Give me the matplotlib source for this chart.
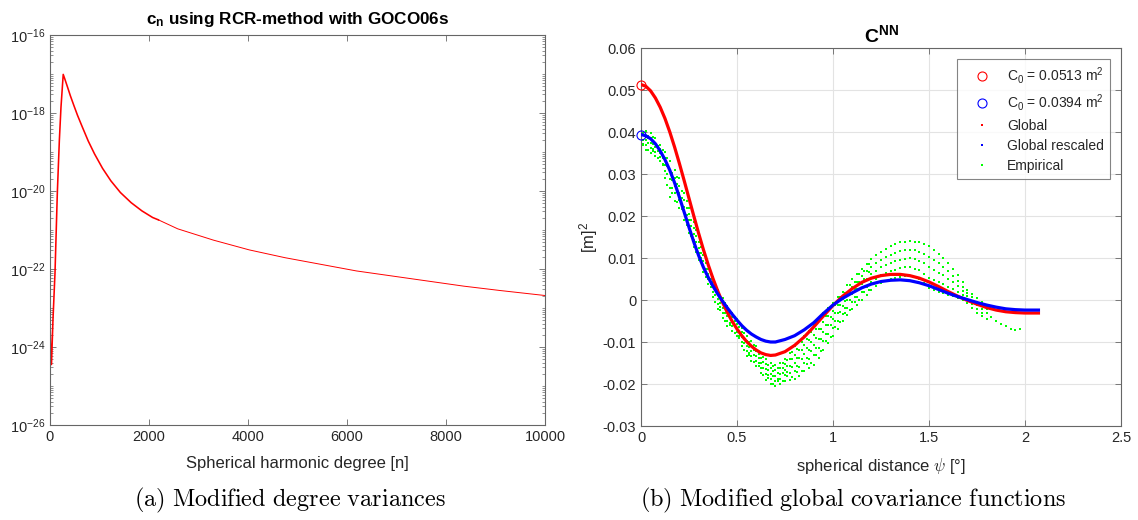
import numpy as np
import matplotlib
matplotlib.use("Agg")
import matplotlib.pyplot as plt
from matplotlib.lines import Line2D
from matplotlib.ticker import LogLocator, FixedLocator, NullFormatter

plt.rcParams['font.family'] = ['Liberation Sans', 'DejaVu Sans']
plt.rcParams['mathtext.fontset'] = 'custom'
plt.rcParams['mathtext.rm'] = 'Liberation Sans'
plt.rcParams['mathtext.it'] = 'Liberation Sans:italic'
plt.rcParams['mathtext.bf'] = 'Liberation Sans:bold'
plt.rcParams['axes.unicode_minus'] = False

# ---------------- data: left panel (degree variances) ----------------
n_deg = [2, 10, 30, 60, 101, 148, 189, 222, 267, 300, 350, 412, 480, 556, 650,
         773, 900, 1062, 1230, 1423, 1640, 1857, 2074, 2190, 2580, 3302, 4025,
         4747, 5470, 6192, 6915, 7637, 8360, 9082, 10000]
log_cn = [-23.4, -23.9, -24.45, -23.3, -22.1, -20.05, -18.7, -17.85, -17.01,
          -17.13, -17.32, -17.56, -17.80, -18.06, -18.35, -18.72, -19.05,
          -19.42, -19.74, -20.04, -20.30, -20.51, -20.68, -20.74, -20.97,
          -21.26, -21.51, -21.71, -21.88, -22.05, -22.18, -22.31, -22.44,
          -22.55, -22.68]
n_split = 2190

# ---------------- data: right panel (covariance functions) ----------------
psi_glob = [0.0, 0.025, 0.05, 0.075, 0.1, 0.125, 0.15, 0.175, 0.2, 0.225, 0.25,
            0.275, 0.3, 0.325, 0.35, 0.375, 0.4, 0.425, 0.45, 0.475, 0.5, 0.525,
            0.55, 0.575, 0.6, 0.625, 0.65, 0.675, 0.7, 0.75, 0.8, 0.85, 0.9,
            0.95, 1.0, 1.05, 1.1, 1.15, 1.2, 1.25, 1.3, 1.35, 1.4, 1.45, 1.5,
            1.55, 1.6, 1.65, 1.7, 1.75, 1.8, 1.85, 1.9, 1.95, 2.0, 2.07]
cov_global = [0.0513, 0.0509, 0.0498, 0.0481, 0.0459, 0.0432, 0.0400, 0.0364,
              0.0325, 0.0284, 0.0242, 0.0200, 0.0159, 0.0120, 0.0084, 0.0051,
              0.0021, -0.0006, -0.0030, -0.0051, -0.0069, -0.0085, -0.0099,
              -0.0110, -0.0119, -0.0126, -0.0130, -0.0132, -0.0131, -0.0123,
              -0.0108, -0.0088, -0.0064, -0.0038, -0.0013, 0.0009, 0.0027,
              0.0042, 0.0052, 0.0058, 0.0061, 0.0061, 0.0058, 0.0052, 0.0043,
              0.0032, 0.0020, 0.0009, -0.0001, -0.0010, -0.0018, -0.0024,
              -0.0028, -0.0030, -0.0031, -0.0031]
cov_rescaled = [0.0394, 0.0391, 0.0384, 0.0372, 0.0355, 0.0334, 0.0309, 0.0279,
                0.0245, 0.0209, 0.0173, 0.0138, 0.0106, 0.0078, 0.0054, 0.0033,
                0.0014, -0.0003, -0.0019, -0.0034, -0.0048, -0.0061, -0.0072,
                -0.0081, -0.0088, -0.0094, -0.0098, -0.0100, -0.0100, -0.0094,
                -0.0085, -0.0071, -0.0054, -0.0032, -0.0012, 0.0004, 0.0017,
                0.0029, 0.0038, 0.0044, 0.0047, 0.0048, 0.0046, 0.0041, 0.0034,
                0.0025, 0.0016, 0.0008, 0.0001, -0.0006, -0.0012, -0.0017,
                -0.0021, -0.0023, -0.0024, -0.0024]
C0_global = 0.0513
C0_rescaled = 0.0394

nan = float('nan')
# empirical covariances, grid A
psi_emp_a = [0.000, 0.025, 0.050, 0.075, 0.100, 0.125, 0.150, 0.175, 0.200,
             0.225, 0.250, 0.275, 0.300, 0.325, 0.350, 0.375, 0.400, 0.425,
             0.450, 0.475, 0.500, 0.525, 0.550, 0.575, 0.600, 0.625, 0.650,
             0.675, 0.700, 0.725, 0.750, 0.775, 0.800, 0.825, 0.850, 0.875,
             0.900, 0.925, 0.950, 0.975, 1.000, 1.025, 1.050, 1.075, 1.100,
             1.125, 1.150, 1.175, 1.200, 1.225, 1.250, 1.275, 1.300, 1.325,
             1.350, 1.375, 1.400, 1.425, 1.450, 1.475, 1.500, 1.525, 1.550,
             1.575, 1.600, 1.625, 1.650, 1.675, 1.700, 1.725, 1.750, 1.775,
             1.800, 1.825, 1.850, 1.875, 1.900, 1.925, 1.950, 1.975]
emp_a1 = [0.0400, 0.0402, 0.0398, 0.0385, 0.0370, 0.0352, 0.0330, 0.0310, 0.0290,
          0.0255, 0.0220, 0.0186, 0.0154, 0.0120, 0.0086, 0.0055, 0.0025, 0.0005,
          -0.0014, -0.0030, -0.0046, -0.0066, -0.0086, -0.0098, -0.0110, -0.0125,
          -0.0140, -0.0150, -0.0155, -0.0150, -0.0140, -0.0125, -0.0110, -0.0098,
          -0.0086, -0.0073, -0.0060, -0.0045, -0.0030, -0.0018, -0.0006, 0.0007,
          0.0020, 0.0035, 0.0049, 0.0062, 0.0075, 0.0086, 0.0097, 0.0106, 0.0115,
          0.0122, 0.0128, 0.0133, 0.0137, 0.0139, 0.0140, 0.0139, 0.0137, 0.0133,
          0.0128, 0.0120, 0.0110, 0.0100, 0.0089, 0.0075, 0.0060, 0.0043, 0.0025,
          0.0015, 0.0005, -0.0005, -0.0014, nan, nan, nan, nan, nan, nan, nan]
emp_a2 = [0.0390, 0.0391, 0.0386, 0.0374, 0.0360, 0.0337, 0.0309, 0.0291, 0.0272,
          0.0239, 0.0205, 0.0171, 0.0139, 0.0106, 0.0073, 0.0043, 0.0013, -0.0007,
          -0.0026, -0.0041, -0.0056, -0.0077, -0.0098, -0.0110, -0.0122, -0.0137,
          -0.0152, -0.0162, -0.0167, -0.0162, -0.0153, -0.0141, -0.0130, -0.0118,
          -0.0107, -0.0096, -0.0084, -0.0068, -0.0052, -0.0039, -0.0026, -0.0012,
          0.0003, 0.0017, 0.0031, 0.0044, 0.0056, 0.0068, 0.0079, 0.0088, 0.0096,
          0.0103, 0.0108, 0.0113, 0.0116, 0.0118, 0.0119, 0.0118, 0.0115, 0.0110,
          0.0103, 0.0096, 0.0087, 0.0079, 0.0070, 0.0058, 0.0046, 0.0032, 0.0017,
          0.0007, -0.0004, -0.0013, -0.0022, nan, nan, nan, nan, nan, nan, nan]
emp_a3 = [0.0380, 0.0380, 0.0374, 0.0364, 0.0350, 0.0321, 0.0288, 0.0272, 0.0255,
          0.0222, 0.0190, 0.0156, 0.0125, 0.0093, 0.0061, 0.0031, 0.0002, -0.0019,
          -0.0038, -0.0052, -0.0066, -0.0088, -0.0110, -0.0122, -0.0134, -0.0150,
          -0.0165, -0.0175, -0.0180, -0.0175, -0.0166, -0.0158, -0.0149, -0.0139,
          -0.0128, -0.0118, -0.0108, -0.0092, -0.0075, -0.0060, -0.0046, -0.0030,
          -0.0015, 0.0000, 0.0014, 0.0026, 0.0038, 0.0050, 0.0061, 0.0070, 0.0078,
          0.0084, 0.0089, 0.0093, 0.0096, 0.0098, 0.0099, 0.0097, 0.0094, 0.0087,
          0.0078, 0.0072, 0.0065, 0.0059, 0.0051, 0.0042, 0.0033, 0.0022, 0.0010,
          -0.0002, -0.0013, -0.0022, -0.0030, nan, nan, nan, nan, nan, nan, nan]
emp_a4 = [0.0370, 0.0369, 0.0362, 0.0353, 0.0340, 0.0306, 0.0266, 0.0254, 0.0237,
          0.0206, 0.0175, 0.0142, 0.0111, 0.0080, 0.0050, 0.0020, -0.0010, -0.0030,
          -0.0050, -0.0063, -0.0076, -0.0099, -0.0121, -0.0133, -0.0145, -0.0162,
          -0.0177, -0.0187, -0.0192, -0.0187, -0.0179, -0.0174, -0.0169, -0.0160,
          -0.0149, -0.0141, -0.0131, -0.0115, -0.0098, -0.0082, -0.0066, -0.0049,
          -0.0033, -0.0018, -0.0004, 0.0007, 0.0019, 0.0031, 0.0043, 0.0051, 0.0059,
          0.0064, 0.0069, 0.0072, 0.0076, 0.0078, 0.0078, 0.0075, 0.0072, 0.0063,
          0.0053, 0.0048, 0.0043, 0.0038, 0.0032, 0.0026, 0.0019, 0.0011, 0.0002,
          -0.0010, -0.0021, -0.0030, nan, nan, nan, nan, nan, nan, nan, nan]
emp_a5 = [0.0360, 0.0358, 0.0350, 0.0342, 0.0330, 0.0290, 0.0245, 0.0235, 0.0220,
          0.0190, 0.0160, 0.0127, 0.0096, 0.0066, 0.0037, 0.0008, -0.0022, -0.0042,
          -0.0062, -0.0074, -0.0086, -0.0110, -0.0133, -0.0145, -0.0157, -0.0174,
          -0.0190, -0.0200, -0.0205, -0.0200, -0.0192, -0.0190, -0.0188, -0.0180,
          -0.0170, -0.0163, -0.0155, -0.0138, -0.0120, -0.0103, -0.0086, -0.0068,
          -0.0050, -0.0036, -0.0022, -0.0011, 0.0000, 0.0013, 0.0025, 0.0033, 0.0040,
          0.0045, 0.0049, 0.0052, 0.0055, 0.0057, 0.0057, 0.0054, 0.0050, 0.0040,
          0.0028, 0.0024, 0.0020, 0.0017, 0.0013, 0.0009, 0.0005, 0.0000, -0.0006,
          -0.0018, -0.0030, -0.0038, -0.0046, -0.0040, -0.0050, -0.0056, -0.0062,
          -0.0070, -0.0072, -0.0068]
# empirical covariances, grid B (offset by half a bin)
psi_emp_b = [0.0125, 0.0375, 0.0625, 0.0875, 0.1125, 0.1375, 0.1625, 0.1875,
             0.2125, 0.2375, 0.2625, 0.2875, 0.3125, 0.3375, 0.3625, 0.3875,
             0.4125, 0.4375, 0.4625, 0.4875, 0.5125, 0.5375, 0.5625, 0.5875,
             0.6125, 0.6375, 0.6625, 0.6875, 0.7125, 0.7375, 0.7625, 0.7875,
             0.8125, 0.8375, 0.8625, 0.8875, 0.9125, 0.9375, 0.9625, 0.9875,
             1.0125, 1.0375, 1.0625, 1.0875, 1.1125, 1.1375, 1.1625, 1.1875]
emp_b1 = [0.0398, 0.0390, 0.0389, 0.0366, 0.0357, 0.0338, 0.0303, 0.0294,
          0.0259, 0.0236, 0.0191, 0.0167, 0.0127, 0.0100, 0.0063, 0.0038,
          0.0006, -0.0008, -0.0032, -0.0040, -0.0065, -0.0079, -0.0101, -0.0107,
          -0.0128, -0.0135, -0.0154, -0.0156, -0.0162, -0.0149, -0.0144, -0.0123,
          -0.0117, -0.0100, -0.0094, -0.0076, -0.0068, -0.0046, -0.0038, -0.0020,
          -0.0013, 0.0008, 0.0016, 0.0036, 0.0044, 0.0063, 0.0069, 0.0085]
emp_b2 = [0.0381, 0.0386, 0.0371, 0.0366, 0.0338, 0.0318, 0.0286, 0.0277,
          0.0243, 0.0218, 0.0176, 0.0152, 0.0113, 0.0087, 0.0049, 0.0025,
          -0.0006, -0.0019, -0.0043, -0.0050, -0.0075, -0.0090, -0.0113, -0.0118,
          -0.0139, -0.0148, -0.0167, -0.0168, -0.0174, -0.0161, -0.0158, -0.0141,
          -0.0137, -0.0120, -0.0115, -0.0099, -0.0091, -0.0069, -0.0060, -0.0040,
          -0.0032, -0.0011, -0.0002, 0.0019, 0.0026, 0.0044, 0.0050, 0.0067]
emp_b3 = [0.0371, 0.0375, 0.0359, 0.0355, 0.0325, 0.0299, 0.0266, 0.0258,
          0.0226, 0.0202, 0.0161, 0.0137, 0.0099, 0.0074, 0.0037, 0.0013,
          -0.0017, -0.0031, -0.0055, -0.0061, -0.0086, -0.0102, -0.0125, -0.0131,
          -0.0151, -0.0161, -0.0179, -0.0181, -0.0187, -0.0174, -0.0172, -0.0159,
          -0.0157, -0.0141, -0.0137, -0.0122, -0.0115, -0.0092, -0.0082, -0.0060,
          -0.0051, -0.0029, -0.0020, 0.0001, 0.0008, 0.0026, 0.0032, 0.0049]
emp_b4 = [0.0368, 0.0356, 0.0355, 0.0337, 0.0321, 0.0273, 0.0254, 0.0233,
          0.0217, 0.0179, 0.0153, 0.0115, 0.0091, 0.0054, 0.0031, -0.0005,
          -0.0023, -0.0050, -0.0059, -0.0079, -0.0090, -0.0119, -0.0130, -0.0148,
          -0.0157, -0.0179, -0.0186, -0.0199, -0.0193, -0.0193, -0.0181, -0.0183,
          -0.0171, -0.0168, -0.0153, -0.0151, -0.0132, -0.0121, -0.0098, -0.0087,
          -0.0064, -0.0053, -0.0031, -0.0023, -0.0005, 0.0001, 0.0019, 0.0025]
emp_tracks_a = [emp_a1, emp_a2, emp_a3, emp_a4, emp_a5]
emp_tracks_b = [emp_b1, emp_b2, emp_b3, emp_b4]

left_xticks = [0, 2000, 4000, 6000, 8000, 10000]
right_xticks = [0, 0.5, 1, 1.5, 2, 2.5]
right_xlabels = ['0', '0.5', '1', '1.5', '2', '2.5']
right_yticks = [-0.03, -0.02, -0.01, 0, 0.01, 0.02, 0.03, 0.04, 0.05, 0.06]
right_ylabels = ['-0.03', '-0.02', '-0.01', '0', '0.01', '0.02', '0.03', '0.04', '0.05', '0.06']

# ---------------- figure ----------------
W, H = 1138, 520
fig = plt.figure(figsize=(W / 100, H / 100), dpi=100)
spine_col = '#666666'
txt_col = '#262626'
tick_fs = 10.5
lab_fs = 12


def style_axes(ax):
    for s in ax.spines.values():
        s.set_color(spine_col)
        s.set_linewidth(0.8)
    ax.tick_params(which='both', direction='in', top=True, right=True,
                   colors=spine_col, labelcolor=txt_col, labelsize=tick_fs)
    ax.tick_params(which='major', length=4.5, width=0.6)
    ax.tick_params(which='minor', length=2.5, width=0.5)


# Left panel
axL = fig.add_axes([50 / W, 1 - 425 / H, 495 / W, 390 / H])
n_arr = np.array(n_deg)
cn_arr = 10.0 ** np.array(log_cn)
m1 = n_arr <= n_split
m2 = n_arr >= n_split
axL.plot(n_arr[m1], cn_arr[m1], color='#ff0000', lw=1.15)
axL.plot(n_arr[m2], cn_arr[m2], color='#ff0000', lw=0.7)
axL.set_yscale('log')
axL.set_xlim(0, 10000)
axL.set_ylim(1e-26, 1e-16)
axL.set_xticks(left_xticks)
axL.set_xticklabels([str(v) for v in left_xticks])
axL.yaxis.set_major_locator(FixedLocator([10.0 ** e for e in range(-26, -15, 2)]))
axL.set_yticklabels([r'$\mathdefault{10^{%d}}$' % e for e in range(-26, -15, 2)])
axL.yaxis.set_minor_locator(LogLocator(base=10, subs=np.arange(1, 10), numticks=40))
axL.yaxis.set_minor_formatter(NullFormatter())
style_axes(axL)
axL.set_xlabel('Spherical harmonic degree [n]', fontsize=lab_fs, color=txt_col, labelpad=9)
axL.set_title(r'$\mathbf{c}_\mathbf{n}$ using RCR-method with GOCO06s',
              fontsize=12.3, fontweight='bold', color='black', pad=8)

# Right panel
axR = fig.add_axes([641 / W, 1 - 426 / H, 480 / W, 378 / H])
axR.grid(True, color='#e3e3e3', lw=0.8)
axR.set_axisbelow(True)
for tr in emp_tracks_a:
    axR.plot(psi_emp_a, tr, ls='none', marker='s', ms=1.9, mew=0,
             color='#00ff00', zorder=2)
for tr in emp_tracks_b:
    axR.plot(psi_emp_b, tr, ls='none', marker='s', ms=1.9, mew=0,
             color='#00ff00', zorder=2)
axR.plot(psi_glob, cov_global, color='#ff0000', lw=2.3, zorder=3)
axR.plot(psi_glob, cov_rescaled, color='#0000ff', lw=2.3, zorder=4)
axR.plot([0], [C0_global], ls='none', marker='o', ms=6.5, mfc='none',
         mec='#ff0000', mew=0.8, zorder=5, clip_on=False)
axR.plot([0], [C0_rescaled], ls='none', marker='o', ms=6.5, mfc='none',
         mec='#0000ff', mew=0.8, zorder=5, clip_on=False)
axR.set_xlim(0, 2.5)
axR.set_ylim(-0.03, 0.06)
axR.set_xticks(right_xticks)
axR.set_xticklabels(right_xlabels)
axR.set_yticks(right_yticks)
axR.set_yticklabels(right_ylabels)
style_axes(axR)
axR.set_xlabel(r'spherical distance $\psi$ [°]', fontsize=lab_fs, color=txt_col,
               labelpad=8, math_fontfamily='cm')
axR.set_ylabel(r'[m]$^2$', fontsize=lab_fs, color=txt_col, labelpad=2)
axR.set_title(r'$\mathbf{C}^\mathbf{NN}$', fontsize=14, color='black', pad=4)

handles = [
    Line2D([], [], ls='none', marker='o', ms=6.5, mfc='none', mec='#ff0000', mew=0.8),
    Line2D([], [], ls='none', marker='o', ms=6.5, mfc='none', mec='#0000ff', mew=0.8),
    Line2D([], [], ls='none', marker='s', ms=2, mew=0, color='#ff0000'),
    Line2D([], [], ls='none', marker='s', ms=2, mew=0, color='#0000ff'),
    Line2D([], [], ls='none', marker='s', ms=2, mew=0, color='#00ff00'),
]
labels = [r'C$_0$ = %.4f m$^2$' % C0_global, r'C$_0$ = %.4f m$^2$' % C0_rescaled,
          'Global', 'Global rescaled', 'Empirical']
leg = axR.legend(handles, labels, loc='upper right', fontsize=10,
                 frameon=True, fancybox=False, borderaxespad=0.8,
                 handlelength=2.7, handletextpad=0.4, labelspacing=0.42,
                 borderpad=0.45)
leg.get_frame().set_edgecolor(spine_col)
leg.get_frame().set_linewidth(0.8)
for t in leg.get_texts():
    t.set_color(txt_col)

# Captions
fig.text(290 / W, 1 - 500 / H, r'$\mathrm{(a)\ Modified\ degree\ variances}$',
         ha='center', va='center', fontsize=17.5, math_fontfamily='cm')
fig.text(853 / W, 1 - 500 / H, r'$\mathrm{(b)\ Modified\ global\ covariance\ functions}$',
         ha='center', va='center', fontsize=17.5, math_fontfamily='cm')

fig.savefig('out.png', dpi=100, facecolor='white')
